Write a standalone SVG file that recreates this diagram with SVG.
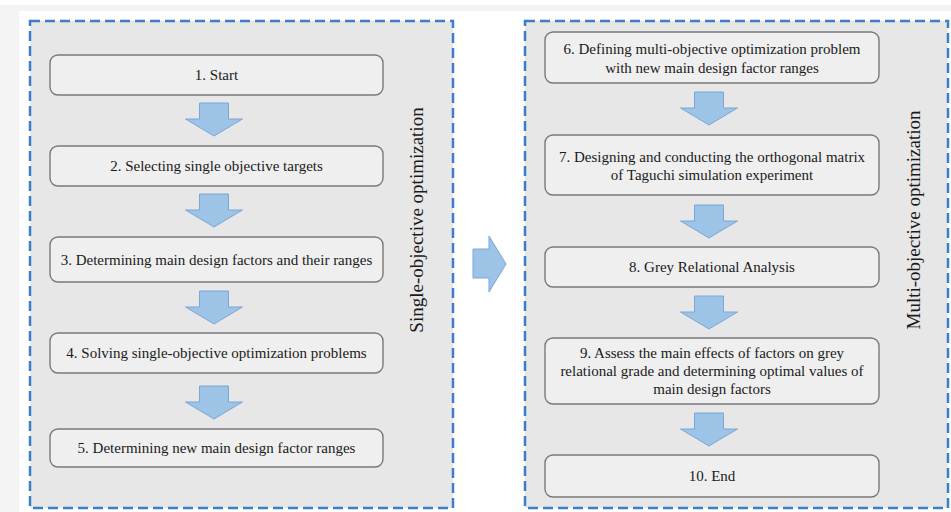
<svg xmlns="http://www.w3.org/2000/svg" width="951" height="512" viewBox="0 0 951 512">
<style>
.panel{fill:#e7e7e7;stroke:#3b80c6;stroke-width:2.5;stroke-dasharray:10 5}
.node rect{fill:#efefef;stroke:#7a7a7a;stroke-width:1.4}
.node text{font-family:"Liberation Serif","Times New Roman",serif;font-size:15px;fill:#1a1a1a;text-anchor:middle}
.arr{fill:#9dc3e6;stroke:#7aa7d6;stroke-width:1}
.side{font-family:"Liberation Serif","Times New Roman",serif;font-size:19px;fill:#1a1a1a;text-anchor:middle}
</style>
<defs>
<path id="down" d="M-14.5 0H14.5V16H28.5L0 33L-28.5 16H-14.5Z"/>
</defs>
<rect width="951" height="512" fill="#ffffff"/>
<rect x="0" y="5" width="951" height="6" fill="#f4f4f4"/>
<rect x="0" y="5" width="19" height="507" fill="#f4f4f4"/>
<g id="left-panel">
<rect class="panel" x="30" y="21" width="423" height="487"/>
<text class="side" transform="translate(423 220) rotate(-90)">Single-objective  optimization</text>
</g>
<g id="right-panel">
<rect class="panel" x="525" y="21" width="423" height="487"/>
<text class="side" transform="translate(920 220) rotate(-90)">Multi-objective  optimization</text>
</g>
<g id="n1" class="node"><rect x="50" y="55" width="333" height="40" rx="8"/><text x="216.5" y="80">1. Start</text></g>
<g id="n2" class="node"><rect x="50" y="146" width="333" height="40" rx="8"/><text x="216.5" y="171">2. Selecting single objective targets</text></g>
<g id="n3" class="node"><rect x="50" y="237" width="333" height="45" rx="8"/><text x="216.5" y="264.5">3. Determining main design factors and their ranges</text></g>
<g id="n4" class="node"><rect x="50" y="333" width="333" height="40" rx="8"/><text x="216.5" y="358">4. Solving single-objective optimization problems</text></g>
<g id="n5" class="node"><rect x="50" y="429" width="333" height="38" rx="8"/><text x="216.5" y="453">5. Determining new main design factor ranges</text></g>
<g id="n6" class="node"><rect x="545" y="32" width="334" height="51" rx="8"/><text x="712" y="54">6. Defining multi-objective optimization problem</text><text x="712" y="73">with new main design  factor ranges</text></g>
<g id="n7" class="node"><rect x="545" y="135" width="334" height="60" rx="8"/><text x="712" y="162">7. Designing and conducting the orthogonal matrix</text><text x="712" y="180">of Taguchi  simulation experiment</text></g>
<g id="n8" class="node"><rect x="545" y="247" width="334" height="40" rx="8"/><text x="712" y="272">8. Grey Relational Analysis</text></g>
<g id="n9" class="node"><rect x="545" y="338" width="334" height="66" rx="8"/><text x="712" y="358">9. Assess the main effects of factors on grey</text><text x="712" y="376">relational grade and determining  optimal values of</text><text x="712" y="394">main design factors</text></g>
<g id="n10" class="node"><rect x="545" y="455" width="334" height="42" rx="8"/><text x="712" y="481">10. End</text></g>
<g id="connectors">
<use href="#down" class="arr" x="214" y="103"/>
<use href="#down" class="arr" x="214" y="194"/>
<use href="#down" class="arr" x="214" y="291"/>
<use href="#down" class="arr" x="214" y="386"/>
<use href="#down" class="arr" x="709" y="92"/>
<use href="#down" class="arr" x="709" y="205"/>
<use href="#down" class="arr" x="709" y="296"/>
<use href="#down" class="arr" x="709" y="413"/>
<path class="arr" d="M473 249H489V236L506 264L489 292V278H473Z"/>
</g>
</svg>
